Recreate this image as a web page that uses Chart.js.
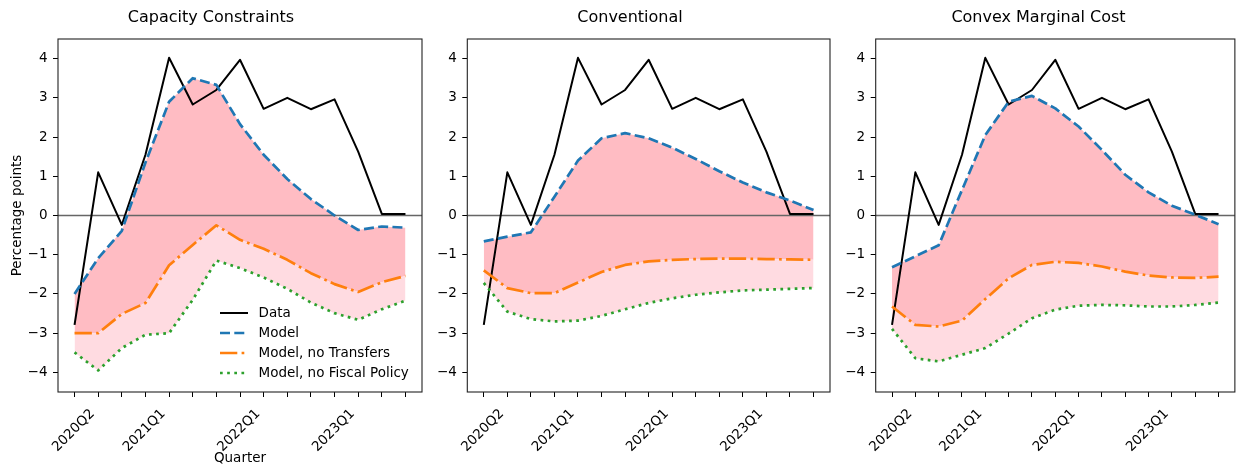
<!DOCTYPE html>
<html lang="en">
<head>
<meta charset="UTF-8">
<title>Model vs Data</title>
<script src="https://cdn.jsdelivr.net/npm/chart.js"></script>
<style>
  body { margin: 0; background: #fff; width: 1238px; height: 468px; overflow: hidden; position: relative; }
  .painel { position: absolute; top: 0; }
</style>
</head>
<body>
<canvas id="g1" class="painel" width="430" height="468" style="left:0px"></canvas>
<canvas id="g2" class="painel" width="410" height="468" style="left:430px"></canvas>
<canvas id="g3" class="painel" width="401" height="468" style="left:838px"></canvas>

<script>
// quarters on the x axis (only some get a label)
const quarters = ['2020Q2','2020Q3','2020Q4','2021Q1','2021Q2','2021Q3','2021Q4','2022Q1',
                  '2022Q2','2022Q3','2022Q4','2023Q1','2023Q2','2023Q3','2023Q4'];
const shownQuarters = ['2020Q2','2021Q1','2022Q1','2023Q1'];
const yTicks = [-4, -3, -2, -1, 0, 1, 2, 3, 4];

// observed data (same in every panel)
const dataSeries = [-2.79, 1.10, -0.24, 1.55, 4.02, 2.83, 3.20, 3.97, 2.72, 3.00, 2.71, 2.96, 1.63, 0.04, 0.04];

// Capacity Constraints
const capModel      = [-2.00, -1.09, -0.39, 1.35, 2.90, 3.50, 3.33, 2.33, 1.55, 0.93, 0.42, 0.00, -0.37, -0.28, -0.31];
const capNoTransf   = [-3.00, -3.00, -2.51, -2.23, -1.27, -0.75, -0.25, -0.62, -0.85, -1.13, -1.47, -1.75, -1.95, -1.70, -1.54];
const capNoFiscal   = [-3.49, -3.95, -3.38, -3.04, -3.00, -2.15, -1.15, -1.34, -1.58, -1.87, -2.22, -2.49, -2.66, -2.39, -2.17];

// Conventional
const convModel     = [-0.66, -0.54, -0.43, 0.48, 1.40, 1.97, 2.10, 1.97, 1.73, 1.44, 1.13, 0.84, 0.59, 0.38, 0.14];
const convNoTransf  = [-1.40, -1.85, -1.98, -1.98, -1.71, -1.44, -1.26, -1.17, -1.13, -1.11, -1.10, -1.10, -1.11, -1.12, -1.13];
const convNoFiscal  = [-1.72, -2.45, -2.64, -2.70, -2.68, -2.56, -2.39, -2.23, -2.11, -2.02, -1.96, -1.91, -1.89, -1.87, -1.85];

// Convex Marginal Cost
const cmcModel      = [-1.32, -1.04, -0.76, 0.65, 2.05, 2.90, 3.05, 2.73, 2.27, 1.67, 1.04, 0.59, 0.25, 0.02, -0.22];
const cmcNoTransf   = [-2.32, -2.79, -2.83, -2.68, -2.13, -1.60, -1.26, -1.18, -1.21, -1.30, -1.43, -1.53, -1.58, -1.59, -1.56];
const cmcNoFiscal   = [-2.89, -3.64, -3.72, -3.55, -3.38, -3.01, -2.62, -2.40, -2.30, -2.28, -2.29, -2.32, -2.32, -2.28, -2.22];

const legendas = ['Data', 'Model', 'Model, no Transfers', 'Model, no Fiscal Policy'];

Chart.defaults.font.family = '"DejaVu Sans", sans-serif';
Chart.defaults.font.size = 13.5;
Chart.defaults.color = '#000';
Chart.defaults.animation = false;

const estilos = [
  { cor: '#000000', largura: 2, dash: [] },
  { cor: '#1f77b4', largura: 2.7, dash: [10, 4.3] },
  { cor: '#ff7f0e', largura: 2.7, dash: [17.3, 4.3, 2.7, 4.3] },
  { cor: '#2ca02c', largura: 2.7, dash: [2.7, 4.45] }
];

function pontos(serie) {
  return serie.map((v, i) => ({ x: i, y: v }));
}

// box around the plot + horizontal zero line
const moldura = {
  id: 'moldura',
  beforeDatasetsDraw(chart) {
    const { ctx, chartArea, scales } = chart;
    const y0 = scales.y.getPixelForValue(0);
    ctx.save();
    ctx.strokeStyle = '#666';
    ctx.lineWidth = 1.4;
    ctx.beginPath();
    ctx.moveTo(chartArea.left, y0);
    ctx.lineTo(chartArea.right, y0);
    ctx.stroke();
    ctx.restore();
  },
  afterDatasetsDraw(chart) {
    const { ctx, chartArea } = chart;
    ctx.save();
    ctx.strokeStyle = '#222';
    ctx.lineWidth = 1.1;
    ctx.strokeRect(chartArea.left, chartArea.top, chartArea.right - chartArea.left, chartArea.bottom - chartArea.top);
    ctx.restore();
  }
};

// legend inside the first panel, lower right, no frame
const legendaDentro = {
  id: 'legendaDentro',
  afterDraw(chart) {
    if (!chart.options.plugins.legendaDentro.mostrar) return;
    const { ctx, chartArea } = chart;
    ctx.save();
    ctx.font = '13.5px "DejaVu Sans", sans-serif';
    ctx.textBaseline = 'middle';
    ctx.fillStyle = '#000';
    legendas.forEach((txt, i) => {
      const y = chartArea.bottom - 79 + i * 20;
      const x = chartArea.right - 202;
      ctx.strokeStyle = estilos[i].cor;
      ctx.lineWidth = estilos[i].largura;
      ctx.setLineDash(estilos[i].dash);
      ctx.beginPath();
      ctx.moveTo(x, y);
      ctx.lineTo(x + 28, y);
      ctx.stroke();
      ctx.setLineDash([]);
      ctx.fillText(txt, x + 38.5, y);
    });
    ctx.restore();
  }
};

function fazerGrafico(id, titulo, model, noTransf, noFiscal, larguraY, padDireita, primeiro) {
  const series = [dataSeries, model, noTransf, noFiscal];
  const fills = [false, '+1', '+1', false];
  const fundos = ['transparent', '#ffbcc3', '#ffdbe1', 'transparent'];
  const datasets = series.map((s, i) => ({
    label: legendas[i],
    data: pontos(s),
    borderColor: estilos[i].cor,
    borderWidth: estilos[i].largura,
    borderDash: estilos[i].dash,
    borderCapStyle: 'butt',
    borderJoinStyle: 'round',
    backgroundColor: fundos[i],
    fill: fills[i],
    pointRadius: 0,
    tension: 0,
    order: 4 - i
  }));

  return new Chart(document.getElementById(id), {
    type: 'line',
    data: { datasets: datasets },
    options: {
      responsive: false,
      layout: { padding: { left: 0, right: padDireita, top: 0, bottom: 0 } },
      plugins: {
        legend: { display: false },
        tooltip: { enabled: false },
        filler: { drawTime: 'beforeDatasetsDraw' },
        legendaDentro: { mostrar: primeiro },
        title: {
          display: true,
          text: titulo,
          font: { size: 16, weight: 'normal' },
          color: '#000',
          padding: { top: 8.4, bottom: 11.4 }
        }
      },
      scales: {
        x: {
          type: 'linear',
          min: -0.7,
          max: 14.7,
          afterBuildTicks: scale => { scale.ticks = quarters.map((q, i) => ({ value: i })); },
          afterFit: scale => { scale.height = 76; },
          ticks: {
            autoSkip: false,
            maxRotation: 45,
            minRotation: 45,
            padding: 9,
            labelOffset: 18,
            callback: v => shownQuarters.includes(quarters[v]) ? quarters[v] : ''
          },
          grid: { drawOnChartArea: false, drawTicks: true, tickLength: 5, tickColor: '#000', tickWidth: 1 },
          border: { display: false },
          title: { display: primeiro, text: 'Quarter', font: { size: 13.5 }, padding: { top: 0, bottom: 1 } }
        },
        y: {
          min: -4.5,
          max: 4.5,
          afterBuildTicks: scale => { scale.ticks = yTicks.map(v => ({ value: v })); },
          afterFit: scale => { scale.width = larguraY; },
          ticks: {
            padding: 5.5,
            callback: v => v < 0 ? '\u2212' + Math.abs(v) : String(v)
          },
          grid: { drawOnChartArea: false, drawTicks: true, tickLength: 5, tickColor: '#000', tickWidth: 1 },
          border: { display: false },
          title: { display: primeiro, text: 'Percentage points', font: { size: 13.5 }, padding: { top: 9, bottom: 0 } }
        }
      }
    },
    plugins: [moldura, legendaDentro]
  });
}

fazerGrafico('g1', 'Capacity Constraints', capModel, capNoTransf, capNoFiscal, 58, 8, true);
fazerGrafico('g2', 'Conventional', convModel, convNoTransf, convNoFiscal, 37.3, 10, false);
fazerGrafico('g3', 'Convex Marginal Cost', cmcModel, cmcNoTransf, cmcNoFiscal, 37.7, 0, false);
</script>
</body>
</html>
